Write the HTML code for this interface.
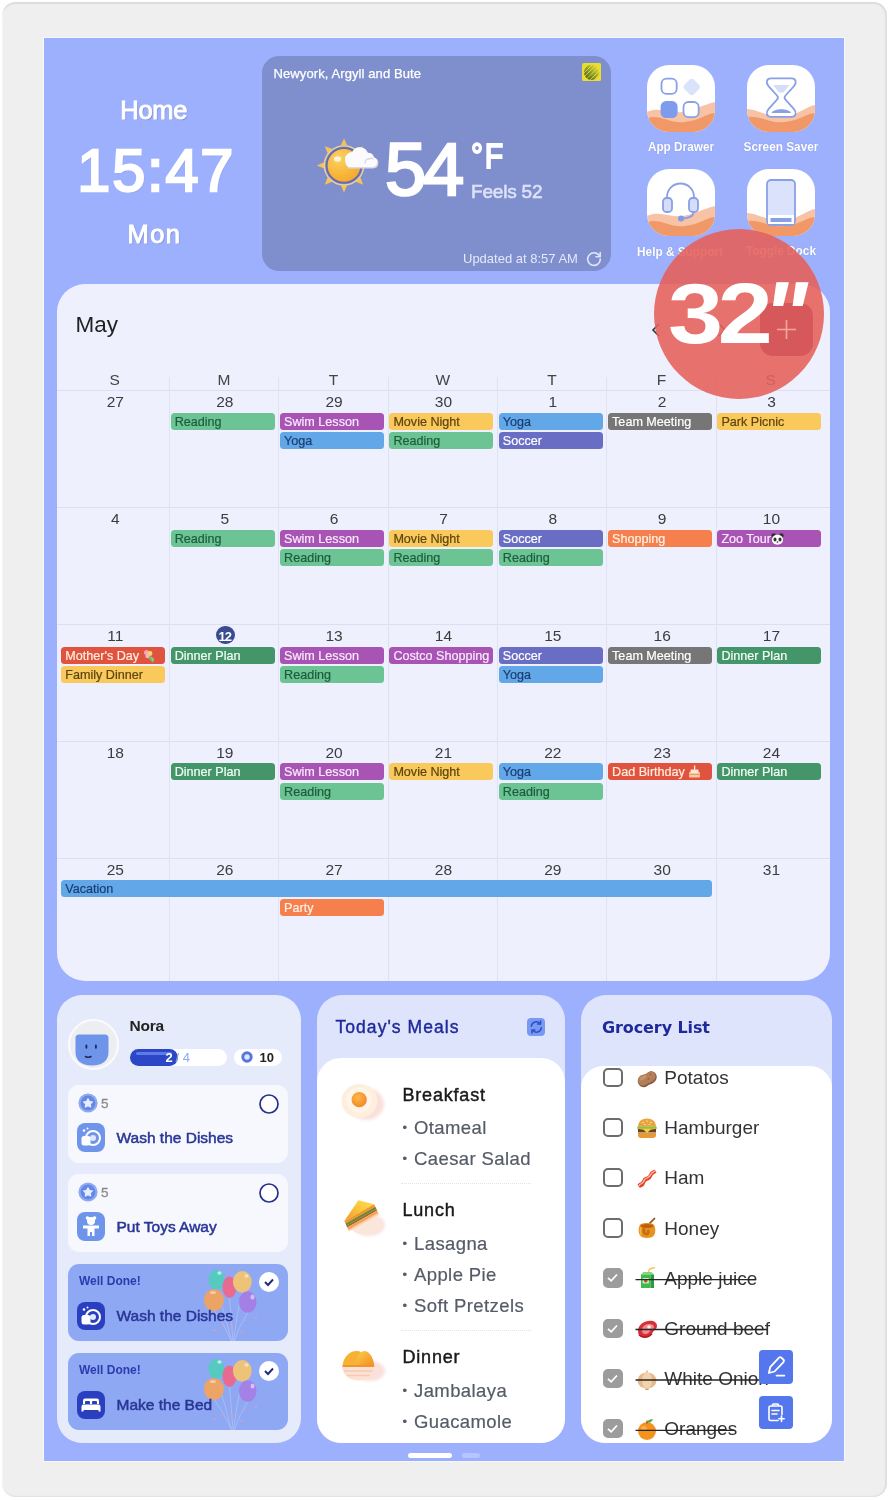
<!DOCTYPE html>
<html lang="en">
<head>
<meta charset="utf-8">
<title>Home Dashboard</title>
<style>
*{box-sizing:border-box;margin:0;padding:0}
html,body{width:889px;height:1500px;background:#fff;overflow:hidden}
body{font-family:"Liberation Sans",sans-serif;position:relative;color:#222}
.abs{position:absolute}
#frame{position:absolute;left:1.500px;top:1.500px;width:885.800px;height:1495.800px;background:#efefef;border-radius:14px;box-shadow:inset 0 3px 1px -1px #dcdcdc, inset -3px 0 1px -1px #dfdfdf, inset 0 -2px 1px -1px #e2e2e2, inset 2px 0 1px -1px #f4f4f4}
#screen{position:absolute;left:44px;top:38px;width:800px;height:1423px;background:#9db0fd;overflow:hidden;box-shadow:0 0 0 1px #f6f7fb}
/* everything inside #screen is positioned in page coords via this shifted layer */
#L{position:absolute;left:-44px;top:-38px;width:889px;height:1500px}
.t{position:absolute;white-space:nowrap;line-height:1}
.clock{color:#fff;text-shadow:1px 1px 1px rgba(90,100,150,.55)}
/* weather */
#wx{left:262px;top:56px;width:349px;height:215px;background:#7f8fce;border-radius:17px}
/* app icons */
.app{width:68px;height:67px;background:#fff;border-radius:22px;overflow:hidden}
.app svg{position:absolute;left:0;top:0}
.albl{color:#fff;font-weight:bold;font-size:12.700px;transform:scaleX(.93);transform-origin:50% 50%;text-align:center;width:120px;text-shadow:0 0 1px rgba(90,100,160,.5)}
/* calendar */
#cal{left:56.5px;top:283.5px;width:773.5px;height:697.5px;background:#eef0fe;border-radius:28px;overflow:hidden}
.vl{position:absolute;width:1px;background:#dfe2f2;top:93px;bottom:0}
.hl{position:absolute;height:1px;background:#dcdff0;left:0;right:0}
.wd{position:absolute;top:88.600px;width:109.35px;text-align:center;font-size:15.500px;line-height:1;color:#444}
.dn{position:absolute;width:109.35px;text-align:center;font-size:15.500px;line-height:1;color:#3c3c3c}
.ev{position:absolute;height:17px;border-radius:3.5px;font-size:12.600px;line-height:19px;padding-left:4.200px;white-space:nowrap;overflow:hidden;width:104.2px;-webkit-text-stroke:.2px currentColor}
.g{background:#6cc394;color:#1d5c3c}
.p{background:#a754b4;color:#fbeafd}
.b{background:#62a8e8;color:#1c3d72}
.y{background:#fac95b;color:#5b4410}
.i{background:#696ec4;color:#fff}
.k{background:#767676;color:#fff}
.o{background:#f57f4d;color:#fff2e6}
.r{background:#e0533f;color:#ffeede}
.d{background:#45956a;color:#f2fff6}
.task{left:67.800px;width:220.400px;height:77.500px;border-radius:11px;background:#f6f8fe}
.task.done{background:#8fa8f4;overflow:hidden}
.bal{position:absolute;left:133px;top:0}
.ticon{left:76.600px;width:28.400px;height:28.400px;border-radius:8px}
.ticon svg{position:absolute;left:0;top:0}
.ttxt{left:116.500px;font-size:15.500px;color:#2a3695;-webkit-text-stroke:.5px #2a3695}
.wd2{left:79px;font-size:12px;font-weight:bold;color:#2a3cae}
.mh{left:402.500px;font-size:18px;letter-spacing:.8px;color:#1a1a1a;-webkit-text-stroke:.45px #1a1a1a}
.mi{left:402.500px;font-size:18.500px;letter-spacing:.4px;color:#555b67;-webkit-text-stroke:.2px #555b67}
.mi i{font-style:normal;display:inline-block;width:11.500px;font-size:13px;vertical-align:2px}
.mdiv{left:401px;width:130px;height:0;border-top:1px dotted #e2e3ea}
.cb{left:603.300px;width:19.400px;height:19.400px;border-radius:5px;border:2px solid #6c6c6c;background:#fff;margin-top:-.4px}
.cb.ck{background:#9c9c9c;border-color:#9c9c9c}
.cb svg{position:absolute;left:-2px;top:-2px}
.gi{left:664.300px;font-size:19px;color:#333;line-height:19.300px}
.em{left:636px;width:22px;height:22px}
.sl{left:635.500px;height:1.500px;background:#2a2a2a}
.fb{left:759.400px;width:34px;height:33.500px;border-radius:4px;background:#5577ee}
.fb svg{position:absolute;left:0;top:0}
</style>
</head>
<body>
<div id="frame"></div>
<div id="screen"><div id="L">

<!-- clock -->
<div class="t clock" id="home" style="left:120.300px;top:98.300px;font-size:25.500px;letter-spacing:-.3px;-webkit-text-stroke:1px #fff">Home</div>
<div class="t clock" id="time" style="left:77.300px;top:141.300px;font-size:59.500px;letter-spacing:1.800px;-webkit-text-stroke:2.300px #fff">15:47</div>
<div class="t clock" id="mon" style="left:127.500px;top:221.800px;font-size:25.500px;letter-spacing:1.400px;-webkit-text-stroke:1px #fff">Mon</div>

<!-- weather -->
<div class="abs" id="wx"></div>
<div class="t" id="wxloc" style="left:273.500px;top:66.500px;font-size:13px;color:#fff;letter-spacing:.1px;-webkit-text-stroke:.25px #fff">Newyork, Argyll and Bute</div>
<div class="t" id="wx54" style="left:385px;top:132.500px;font-size:74px;color:#fff;letter-spacing:-3.200px;-webkit-text-stroke:2.500px #fff">54</div>
<div class="t" id="wxF" style="left:470.500px;top:138.200px;font-size:35px;color:#fff;letter-spacing:2px;-webkit-text-stroke:1.900px #fff;transform:scaleX(.86);transform-origin:0 0">°F</div>
<div class="t" id="wxfeel" style="left:471px;top:181.800px;font-size:19px;color:#dde2f6;-webkit-text-stroke:.55px #dde2f6;letter-spacing:-.2px">Feels 52</div>
<div class="t" id="wxupd" style="left:463px;top:251.5px;font-size:13px;color:#e4e8f8">Updated at 8:57 AM</div>
<svg class="abs" style="left:585px;top:250px" width="18" height="18" viewBox="0 0 18 18"><path d="M14.6 6.2A6.3 6.3 0 1 0 15.3 9" fill="none" stroke="#dfe4f7" stroke-width="1.6" stroke-linecap="round"/><path d="M15.2 2.6v4.2H11" fill="none" stroke="#dfe4f7" stroke-width="1.6" stroke-linecap="round" stroke-linejoin="round"/></svg>
<!-- provider logo -->
<svg class="abs" style="left:582px;top:62.800px" width="19.200" height="18.200" viewBox="0 0 19.200 18.200"><defs><linearGradient id="lg" x1="0" y1="1" x2="1" y2="0"><stop offset="0" stop-color="#3f5210"/><stop offset=".45" stop-color="#8a9a1e"/><stop offset=".8" stop-color="#d9cf2a"/><stop offset="1" stop-color="#e9dc30"/></linearGradient><clipPath id="lc"><circle cx="9.600" cy="9.300" r="7.600"/></clipPath></defs><rect width="19.200" height="18.200" rx="2.200" fill="#e9dd2f"/><circle cx="9.600" cy="9.300" r="7.600" fill="url(#lg)"/><g clip-path="url(#lc)" stroke="#f1e96a" stroke-width=".9" opacity=".8"><path d="M0 12L12 0M1 15L15 1M3.500 17L17 3.500M6 19L19 6M9 20L20 9M-1 9L9-1"/></g></svg>
<!-- sun + cloud -->
<svg class="abs" id="sun" style="left:314px;top:137px" width="66" height="58" viewBox="0 0 66 58">
<defs><radialGradient id="sg" cx=".35" cy=".3" r=".8"><stop offset="0" stop-color="#fbd263"/><stop offset=".6" stop-color="#f7b638"/><stop offset="1" stop-color="#f2a52e"/></radialGradient></defs>
<g fill="#f5c255"><path d="M30 1.200l3.200 7.300h-6.400z" transform="rotate(0 30 28.400)"/><path d="M30 1.200l3.200 7.300h-6.400z" transform="rotate(-45 30 28.400)"/><path d="M30 1.200l3.200 7.300h-6.400z" transform="rotate(-90 30 28.400)"/><path d="M30 1.200l3.200 7.300h-6.400z" transform="rotate(-135 30 28.400)"/><path d="M30 1.200l3.200 7.300h-6.400z" transform="rotate(180 30 28.400)"/><path d="M30 1.200l3.200 7.300h-6.400z" transform="rotate(135 30 28.400)"/><path d="M30 1.200l3.200 7.300h-6.400z" transform="rotate(90 30 28.400)"/><path d="M30 1.200l3.200 7.300h-6.400z" transform="rotate(45 30 28.400)"/></g>
<circle cx="30" cy="28.400" r="19.600" fill="#7f8fce" stroke="#f1d78c" stroke-width="1.300"/>
<circle cx="30" cy="28.400" r="17.300" fill="url(#sg)" stroke="#6b68ad" stroke-width="1.800"/>
<ellipse cx="23.500" cy="22" rx="3.600" ry="2.800" fill="#fff" opacity=".75"/>
<path d="M35 31.500h24a5.600 5.600 0 0 0 1.200-11 5.500 5.500 0 0 0-6-4.300 8.600 8.600 0 0 0-15.800-.7 7.600 7.600 0 0 0-7.400 7.600c0 4.500 3.200 8.400 4 8.400z" fill="#d9dae3"/>
<path d="M36 30h22.500a5 5 0 0 0 1-9.800 5.300 5.300 0 0 0-6-4.500 8.200 8.200 0 0 0-15.300-.6A7.200 7.200 0 0 0 31 22.500c0 4 2.500 7.500 5 7.500z" fill="#fbfbfd"/>
<path d="M51 26.500c0-3 2-5 4.500-4.500 1-1.500 3-1 3.500.5" fill="none" stroke="#d2d3de" stroke-width="1.200"/>
</svg>

<!-- app icons -->
<div class="abs app" style="left:646.500px;top:64.500px"><svg width="68" height="67" viewBox="0 0 68 67"><path d="M0 47c12-6 24 2 36 0s22-8 32-10v30H0z" fill="#f8c3a4"/><path d="M0 53c14-4 22 6 38 4s20-8 30-9v19H0z" fill="#f19868"/><rect x="14.500" y="13.700" width="15.200" height="15.200" rx="5" fill="#fff" stroke="#8aa0e6" stroke-width="1.800"/><rect x="36.500" y="37" width="15.200" height="15.200" rx="5" fill="#fff" stroke="#8aa0e6" stroke-width="1.800"/><rect x="13.600" y="36.100" width="17" height="17" rx="5.500" fill="#7f9bee"/><rect x="38" y="15.300" width="13.400" height="13.400" rx="3.500" transform="rotate(45 44.700 22)" fill="#dbe2fb"/></svg></div>
<div class="abs app" style="left:747px;top:64.500px"><svg width="68" height="67" viewBox="0 0 68 67"><path d="M0 44c10 0 20 8 34 8s24-10 34-12v27H0z" fill="#f8c3a4"/><path d="M0 52c14-2 22 7 38 5s20-8 30-9v19H0z" fill="#f19868"/><path d="M24 13.300h20.500c4.500 0 5.500 4.500 2.500 7.800l-8.500 9.400c-1.500 1.700-1.500 2.500 0 4.200l8.500 9.400c3 3.300 2 7.800-2.500 7.800H24c-4.500 0-5.500-4.500-2.500-7.800l8.500-9.400c1.500-1.700 1.500-2.500 0-4.200l-8.500-9.400c-3-3.300-2-7.800 2.500-7.800z" fill="#fff" stroke="#8aa0e6" stroke-width="1.800"/><path d="M26 20h16.500l-6 7.500h-4.500z" fill="#d5ddf8"/><path d="M24.500 48c2-5 17.500-5 19.500 0z" fill="#8aa0e6"/></svg></div>
<div class="abs app" style="left:646.500px;top:168.500px"><svg width="68" height="67" viewBox="0 0 68 67"><path d="M0 47c12-6 24 2 36 0s22-8 32-10v30H0z" fill="#f8c3a4"/><path d="M0 53c14-4 22 6 38 4s20-8 30-9v19H0z" fill="#f19868"/><path d="M20 32v-4a13.500 13.500 0 0 1 27 0v4" fill="none" stroke="#8aa0e6" stroke-width="1.800"/><rect x="16" y="29" width="9" height="14" rx="3.500" fill="#d5ddf8" stroke="#8aa0e6" stroke-width="1.800"/><rect x="42" y="29" width="9" height="14" rx="3.500" fill="#d5ddf8" stroke="#8aa0e6" stroke-width="1.800"/><path d="M46.500 43c0 5-5 6-11 6.500" fill="none" stroke="#8aa0e6" stroke-width="1.800"/><circle cx="34" cy="49.500" r="3" fill="#7f9bee"/></svg></div>
<div class="abs app" style="left:747px;top:168.500px"><svg width="68" height="67" viewBox="0 0 68 67"><path d="M0 44c10 0 20 8 34 8s24-10 34-12v27H0z" fill="#f8c3a4"/><path d="M0 52c14-2 22 7 38 5s20-8 30-9v19H0z" fill="#f19868"/><rect x="20" y="11" width="28" height="45" rx="4" fill="#dbe2fb" stroke="#8aa0e6" stroke-width="1.800"/><rect x="21" y="46" width="26" height="9" fill="#fff"/><rect x="23.500" y="49" width="21" height="4" fill="#8aa0e6"/></svg></div>
<div class="t albl" style="left:620.500px;top:141px">App Drawer</div>
<div class="t albl" style="left:721px;top:140.500px">Screen Saver</div>
<div class="t albl" style="left:620px;top:245.500px">Help &amp; Support</div>
<div class="t albl" style="left:721px;top:245px">Toggle Dock</div>

<div class="abs" id="cal">
<div class="t" id="may" style="left:19.0px;top:30.0px;font-size:22.5px;color:#222">May</div>
<svg class="abs" style="left:593.5px;top:38.0px" width="12" height="16" viewBox="0 0 12 16"><path d="M9 2L3 8l6 6" fill="none" stroke="#333" stroke-width="1.6"/></svg>
<svg class="abs" style="left:659.5px;top:38.0px" width="12" height="16" viewBox="0 0 12 16"><path d="M3 2l6 6-6 6" fill="none" stroke="#333" stroke-width="1.6"/></svg>
<div class="abs" id="addbtn" style="left:703.2px;top:19.5px;width:53px;height:53px;border-radius:13px;background:#6c8df2"><svg width="53" height="53" viewBox="0 0 53 53"><path d="M26.500 17v19M17 26.500h19" stroke="#fff" stroke-width="1.600" fill="none"/></svg></div>
<div class="hl" style="top:106.9px"></div>
<div class="hl" style="top:223.8px"></div>
<div class="hl" style="top:340.6px"></div>
<div class="hl" style="top:457.3px"></div>
<div class="hl" style="top:574.0px"></div>
<div class="vl" style="left:112.4px"></div>
<div class="vl" style="left:221.8px"></div>
<div class="vl" style="left:331.1px"></div>
<div class="vl" style="left:440.4px"></div>
<div class="vl" style="left:549.8px"></div>
<div class="vl" style="left:659.1px"></div>
<div class="wd" style="left:3.5px">S</div>
<div class="wd" style="left:112.9px">M</div>
<div class="wd" style="left:222.2px">T</div>
<div class="wd" style="left:331.6px">W</div>
<div class="wd" style="left:440.9px">T</div>
<div class="wd" style="left:550.3px">F</div>
<div class="wd" style="left:659.6px">S</div>
<div class="dn" style="left:4.2px;top:110.9px">27</div>
<div class="dn" style="left:113.6px;top:110.9px">28</div>
<div class="dn" style="left:222.9px;top:110.9px">29</div>
<div class="dn" style="left:332.3px;top:110.9px">30</div>
<div class="dn" style="left:441.6px;top:110.9px">1</div>
<div class="dn" style="left:551.0px;top:110.9px">2</div>
<div class="dn" style="left:660.3px;top:110.9px">3</div>
<div class="dn" style="left:4.2px;top:227.8px">4</div>
<div class="dn" style="left:113.6px;top:227.8px">5</div>
<div class="dn" style="left:222.9px;top:227.8px">6</div>
<div class="dn" style="left:332.3px;top:227.8px">7</div>
<div class="dn" style="left:441.6px;top:227.8px">8</div>
<div class="dn" style="left:551.0px;top:227.8px">9</div>
<div class="dn" style="left:660.3px;top:227.8px">10</div>
<div class="dn" style="left:4.2px;top:344.6px">11</div>
<div class="abs" id="today" style="left:159.7px;top:342.3px;width:18.600px;height:18.600px;border-radius:50%;background:#3b4b90"></div>
<div class="dn" style="left:114.1px;top:346.1px;color:#fff;font-weight:bold;font-size:13px;letter-spacing:-.8px;padding-right:.8px">12</div>
<div class="dn" style="left:222.9px;top:344.6px">13</div>
<div class="dn" style="left:332.3px;top:344.6px">14</div>
<div class="dn" style="left:441.6px;top:344.6px">15</div>
<div class="dn" style="left:551.0px;top:344.6px">16</div>
<div class="dn" style="left:660.3px;top:344.6px">17</div>
<div class="dn" style="left:4.2px;top:461.3px">18</div>
<div class="dn" style="left:113.6px;top:461.3px">19</div>
<div class="dn" style="left:222.9px;top:461.3px">20</div>
<div class="dn" style="left:332.3px;top:461.3px">21</div>
<div class="dn" style="left:441.6px;top:461.3px">22</div>
<div class="dn" style="left:551.0px;top:461.3px">23</div>
<div class="dn" style="left:660.3px;top:461.3px">24</div>
<div class="dn" style="left:4.2px;top:578.0px">25</div>
<div class="dn" style="left:113.6px;top:578.0px">26</div>
<div class="dn" style="left:222.9px;top:578.0px">27</div>
<div class="dn" style="left:332.3px;top:578.0px">28</div>
<div class="dn" style="left:441.6px;top:578.0px">29</div>
<div class="dn" style="left:551.0px;top:578.0px">30</div>
<div class="dn" style="left:660.3px;top:578.0px">31</div>
<div class="ev g" style="left:114.0px;top:129.4px;width:104.2px">Reading</div>
<div class="ev p" style="left:223.4px;top:129.4px;width:104.2px">Swim Lesson</div>
<div class="ev b" style="left:223.4px;top:148.7px;width:104.2px">Yoga</div>
<div class="ev y" style="left:332.7px;top:129.4px;width:104.2px">Movie Night</div>
<div class="ev g" style="left:332.7px;top:148.7px;width:104.2px">Reading</div>
<div class="ev b" style="left:442.1px;top:129.4px;width:104.2px">Yoga</div>
<div class="ev i" style="left:442.1px;top:148.7px;width:104.2px">Soccer</div>
<div class="ev k" style="left:551.4px;top:129.4px;width:104.2px">Team Meeting</div>
<div class="ev y" style="left:660.7px;top:129.4px;width:104.2px">Park Picnic</div>
<div class="ev g" style="left:114.0px;top:246.3px;width:104.2px">Reading</div>
<div class="ev p" style="left:223.4px;top:246.3px;width:104.2px">Swim Lesson</div>
<div class="ev g" style="left:223.4px;top:265.6px;width:104.2px">Reading</div>
<div class="ev y" style="left:332.7px;top:246.3px;width:104.2px">Movie Night</div>
<div class="ev g" style="left:332.7px;top:265.6px;width:104.2px">Reading</div>
<div class="ev i" style="left:442.1px;top:246.3px;width:104.2px">Soccer</div>
<div class="ev g" style="left:442.1px;top:265.6px;width:104.2px">Reading</div>
<div class="ev o" style="left:551.4px;top:246.3px;width:104.2px">Shopping</div>
<div class="ev p" style="left:660.7px;top:246.3px;width:104.2px">Zoo Tour<svg width="13" height="12" viewBox="0 0 13 12" style="vertical-align:-2px"><circle cx="2.600" cy="2.600" r="2.300" fill="#333"/><circle cx="10.400" cy="2.600" r="2.300" fill="#333"/><ellipse cx="6.500" cy="6.800" rx="5.600" ry="5" fill="#fff"/><ellipse cx="4" cy="6.500" rx="1.500" ry="1.900" fill="#333"/><ellipse cx="9" cy="6.500" rx="1.500" ry="1.900" fill="#333"/><ellipse cx="6.500" cy="9" rx="1" ry=".7" fill="#333"/></svg></div>
<div class="ev r" style="left:4.6px;top:363.1px;width:104.2px">Mother's Day <svg width="13" height="14" viewBox="0 0 13 14" style="vertical-align:-3px"><path d="M4 7l6 6M6 6l5 6" stroke="#7bb661" stroke-width="1.500"/><circle cx="3.500" cy="3.500" r="2.500" fill="#f6a6b8"/><circle cx="7" cy="4.500" r="2.400" fill="#f9d56b"/><circle cx="4.500" cy="7" r="2.200" fill="#f7b2c2"/><path d="M7 8l4 1-1 4z" fill="#8ccf78"/></svg></div>
<div class="ev y" style="left:4.6px;top:382.4px;width:104.2px">Family Dinner</div>
<div class="ev d" style="left:114.0px;top:363.1px;width:104.2px">Dinner Plan</div>
<div class="ev p" style="left:223.4px;top:363.1px;width:104.2px">Swim Lesson</div>
<div class="ev g" style="left:223.4px;top:382.4px;width:104.2px">Reading</div>
<div class="ev p" style="left:332.7px;top:363.1px;width:104.2px">Costco Shopping</div>
<div class="ev i" style="left:442.1px;top:363.1px;width:104.2px">Soccer</div>
<div class="ev b" style="left:442.1px;top:382.4px;width:104.2px">Yoga</div>
<div class="ev k" style="left:551.4px;top:363.1px;width:104.2px">Team Meeting</div>
<div class="ev d" style="left:660.7px;top:363.1px;width:104.2px">Dinner Plan</div>
<div class="ev d" style="left:114.0px;top:479.8px;width:104.2px">Dinner Plan</div>
<div class="ev p" style="left:223.4px;top:479.8px;width:104.2px">Swim Lesson</div>
<div class="ev g" style="left:223.4px;top:499.1px;width:104.2px">Reading</div>
<div class="ev y" style="left:332.7px;top:479.8px;width:104.2px">Movie Night</div>
<div class="ev b" style="left:442.1px;top:479.8px;width:104.2px">Yoga</div>
<div class="ev g" style="left:442.1px;top:499.1px;width:104.2px">Reading</div>
<div class="ev r" style="left:551.4px;top:479.8px;width:104.2px">Dad Birthday <svg width="13" height="13" viewBox="0 0 13 13" style="vertical-align:-2px"><rect x="1" y="7" width="11" height="5.500" rx="1" fill="#f6c9a0"/><rect x="2.500" y="4.500" width="8" height="3.500" rx="1" fill="#fde6d2"/><path d="M1 9.500h11" stroke="#f19a6e" stroke-width="1"/><rect x="6" y="1.500" width="1.200" height="3" fill="#fff"/><circle cx="6.600" cy="1.200" r="1" fill="#fbd15b"/></svg></div>
<div class="ev d" style="left:660.7px;top:479.8px;width:104.2px">Dinner Plan</div>
<div class="ev b" style="left:4.6px;top:596.5px;width:651.0px">Vacation</div>
<div class="ev o" style="left:223.4px;top:615.8px;width:104.2px">Party</div>
</div>
<!-- ===== chores card ===== -->
<div class="abs" id="chores" style="left:56.5px;top:995px;width:244px;height:448.300px;background:#e6ebfc;border-radius:25px"></div>
<div class="abs" style="left:67.500px;top:1019px;width:51px;height:51px;border-radius:50%;background:#eceef2;border:2px solid #fbfbfd"></div>
<svg class="abs" style="left:75px;top:1034px" width="34" height="32" viewBox="0 0 34 32"><path d="M4 .5h26a3.500 3.500 0 0 1 3.500 3.500v14c0 8-5 13.500-16.500 13.500S.5 26 .5 18V4A3.500 3.500 0 0 1 4 .5z" fill="#6f95ea"/><rect x="10.500" y="10.500" width="1.800" height="4.200" rx=".9" fill="#1f2a5a"/><rect x="20" y="10.500" width="1.800" height="4.200" rx=".9" fill="#1f2a5a"/><path d="M10.500 22.500q2.500 1.500 5.500 0" stroke="#1f2a5a" stroke-width="1.600" fill="none" stroke-linecap="round"/></svg>
<div class="t" id="nora" style="left:129.500px;top:1017.500px;font-size:15.500px;font-weight:bold;color:#222;letter-spacing:-.2px">Nora</div>
<div class="abs" style="left:130px;top:1048.500px;width:96.500px;height:17px;border-radius:9px;background:#fff"></div>
<div class="abs" style="left:130px;top:1048.500px;width:48px;height:17px;border-radius:9px;background:#2b46c6;overflow:hidden"><div style="position:absolute;left:6px;right:6px;top:3px;height:3px;border-radius:2px;background:#5f7be8"></div></div>
<div class="t" style="left:165.500px;top:1050.500px;font-size:13px;font-weight:bold;color:#fff">2</div>
<div class="t" style="left:175.500px;top:1050.500px;font-size:13px;color:#8ea6ee">/ 4</div>
<div class="abs" style="left:233.500px;top:1048.500px;width:48px;height:17px;border-radius:9px;background:#fff"></div>
<svg class="abs" style="left:240.500px;top:1051px" width="12" height="12" viewBox="0 0 12 12"><circle cx="6" cy="6" r="4.200" fill="#dfe6fb" stroke="#5576e0" stroke-width="3"/></svg>
<div class="t" style="left:259.500px;top:1050.500px;font-size:13px;font-weight:bold;color:#222">10</div>

<!-- task 1 -->
<div class="abs task" style="top:1085.300px"></div>
<svg class="abs" style="left:77.500px;top:1093.300px" width="20" height="20" viewBox="0 0 20 20"><circle cx="10" cy="10" r="9.600" fill="#8faaf0"/><circle cx="10" cy="10" r="7.400" fill="#6389e6"/><path d="M10 5.800l1.400 2.700 3 .4-2.200 2.100.5 3-2.700-1.400-2.700 1.400.5-3-2.200-2.100 3-.4z" fill="#e6edff" stroke="#e6edff" stroke-width="1.200" stroke-linejoin="round"/></svg>
<div class="t" style="left:101px;top:1097px;font-size:13.500px;color:#8a8a8a;-webkit-text-stroke:.3px #8a8a8a">5</div>
<svg class="abs" style="left:258px;top:1093px" width="22" height="22" viewBox="0 0 22 22"><circle cx="11" cy="11" r="9" fill="#fff" stroke="#262f8c" stroke-width="1.700"/></svg>
<div class="abs ticon" style="top:1123.400px;background:#6f95ea"><svg width="28" height="28" viewBox="0 0 28 28"><circle cx="16" cy="15" r="7" fill="none" stroke="#fff" stroke-width="2"/><circle cx="16" cy="15" r="3" fill="#dfe7fc"/><rect x="4.500" y="13" width="9" height="9.500" rx="2.500" fill="#fff"/><circle cx="7" cy="7.500" r="1.300" fill="#fff"/><circle cx="10.500" cy="5.500" r="1" fill="#fff"/></svg></div>
<div class="t ttxt" style="top:1129.500px">Wash the Dishes</div>

<!-- task 2 -->
<div class="abs task" style="top:1174.300px"></div>
<svg class="abs" style="left:77.500px;top:1182.300px" width="20" height="20" viewBox="0 0 20 20"><circle cx="10" cy="10" r="9.600" fill="#8faaf0"/><circle cx="10" cy="10" r="7.400" fill="#6389e6"/><path d="M10 5.800l1.400 2.700 3 .4-2.200 2.100.5 3-2.700-1.400-2.700 1.400.5-3-2.200-2.100 3-.4z" fill="#e6edff" stroke="#e6edff" stroke-width="1.200" stroke-linejoin="round"/></svg>
<div class="t" style="left:101px;top:1186px;font-size:13.500px;color:#8a8a8a;-webkit-text-stroke:.3px #8a8a8a">5</div>
<svg class="abs" style="left:258px;top:1182px" width="22" height="22" viewBox="0 0 22 22"><circle cx="11" cy="11" r="9" fill="#fff" stroke="#262f8c" stroke-width="1.700"/></svg>
<div class="abs ticon" style="top:1212.400px;background:#6f95ea"><svg width="28" height="28" viewBox="0 0 28 28"><circle cx="10.500" cy="6" r="1.800" fill="#fff"/><circle cx="17.500" cy="6" r="1.800" fill="#fff"/><circle cx="14" cy="9" r="4" fill="#fff"/><path d="M6 13.500h16v3h-4.500v7.500h-2.500v-4h-2v4h-2.500v-7.500H6z" fill="#fff"/></svg></div>
<div class="t ttxt" style="top:1218.500px">Put Toys Away</div>

<!-- done 1 -->
<div class="abs task done" style="top:1263.500px"><svg class="bal" width="70" height="78" viewBox="0 0 70 78"><g opacity=".93">
<g stroke="#b3c1f3" stroke-width=".8" fill="none"><path d="M13 46q10 14 18 32"/><path d="M16 26q8 26 15 52"/><path d="M28.500 34q2 22 3.500 44"/><path d="M41 28q-6 26-8.500 50"/><path d="M46.500 49q-9 14-13.500 29"/></g>
<ellipse cx="15.600" cy="15.800" rx="8.100" ry="10.100" fill="#52cdbd"/><ellipse cx="18.500" cy="9" rx="2.200" ry="1.700" fill="#d4f7f1" opacity=".85"/>
<ellipse cx="28.500" cy="23.200" rx="7" ry="10.800" fill="#ee6789"/>
<ellipse cx="41.300" cy="17.800" rx="9.400" ry="10.800" fill="#f5c570"/><ellipse cx="45.500" cy="12" rx="2" ry="1.700" fill="#fdeec6" opacity=".85"/>
<ellipse cx="12.900" cy="36" rx="10" ry="10.800" fill="#f4a45c"/><ellipse cx="12" cy="28.500" rx="3" ry="1.600" fill="#fbd9a8" opacity=".8"/>
<ellipse cx="46.700" cy="38" rx="8.800" ry="10.800" fill="#a67ee6"/><ellipse cx="51.500" cy="33" rx="2" ry="2.600" fill="#e0d2fa" opacity=".85"/>
<g fill="#f29a9a"><circle cx="13" cy="66" r="1.100"/><circle cx="22" cy="62" r=".8"/><circle cx="31" cy="62" r=".9"/><circle cx="41" cy="68" r=".9"/><circle cx="55" cy="54" r=".9"/><circle cx="44" cy="56" r=".8"/></g>
</g></svg></div>
<div class="t wd2" style="top:1275px">Well Done!</div>
<svg class="abs" style="left:258px;top:1270.600px" width="22" height="22" viewBox="0 0 22 22"><circle cx="11" cy="11" r="10" fill="#fff"/><path d="M7 11l3 3 5-5.500" fill="none" stroke="#1f2a7a" stroke-width="1.900"/></svg>
<div class="abs ticon" style="top:1301.500px;background:#2a3fc0"><svg width="28" height="28" viewBox="0 0 28 28"><circle cx="16" cy="15" r="7" fill="none" stroke="#fff" stroke-width="2"/><circle cx="16" cy="15" r="3" fill="#dfe7fc"/><rect x="4.500" y="13" width="9" height="9.500" rx="2.500" fill="#fff"/><circle cx="7" cy="7.500" r="1.300" fill="#fff"/><circle cx="10.500" cy="5.500" r="1" fill="#fff"/></svg></div>
<div class="t ttxt" style="top:1307.500px">Wash the Dishes</div>

<!-- done 2 -->
<div class="abs task done" style="top:1352.500px"><svg class="bal" width="70" height="78" viewBox="0 0 70 78"><g opacity=".93">
<g stroke="#b3c1f3" stroke-width=".8" fill="none"><path d="M13 46q10 14 18 32"/><path d="M16 26q8 26 15 52"/><path d="M28.500 34q2 22 3.500 44"/><path d="M41 28q-6 26-8.500 50"/><path d="M46.500 49q-9 14-13.500 29"/></g>
<ellipse cx="15.600" cy="15.800" rx="8.100" ry="10.100" fill="#52cdbd"/><ellipse cx="18.500" cy="9" rx="2.200" ry="1.700" fill="#d4f7f1" opacity=".85"/>
<ellipse cx="28.500" cy="23.200" rx="7" ry="10.800" fill="#ee6789"/>
<ellipse cx="41.300" cy="17.800" rx="9.400" ry="10.800" fill="#f5c570"/><ellipse cx="45.500" cy="12" rx="2" ry="1.700" fill="#fdeec6" opacity=".85"/>
<ellipse cx="12.900" cy="36" rx="10" ry="10.800" fill="#f4a45c"/><ellipse cx="12" cy="28.500" rx="3" ry="1.600" fill="#fbd9a8" opacity=".8"/>
<ellipse cx="46.700" cy="38" rx="8.800" ry="10.800" fill="#a67ee6"/><ellipse cx="51.500" cy="33" rx="2" ry="2.600" fill="#e0d2fa" opacity=".85"/>
<g fill="#f29a9a"><circle cx="13" cy="66" r="1.100"/><circle cx="22" cy="62" r=".8"/><circle cx="31" cy="62" r=".9"/><circle cx="41" cy="68" r=".9"/><circle cx="55" cy="54" r=".9"/><circle cx="44" cy="56" r=".8"/></g>
</g></svg></div>
<div class="t wd2" style="top:1364px">Well Done!</div>
<svg class="abs" style="left:258px;top:1359.600px" width="22" height="22" viewBox="0 0 22 22"><circle cx="11" cy="11" r="10" fill="#fff"/><path d="M7 11l3 3 5-5.500" fill="none" stroke="#1f2a7a" stroke-width="1.900"/></svg>
<div class="abs ticon" style="top:1390.500px;background:#2a3fc0"><svg width="28" height="28" viewBox="0 0 28 28"><path d="M6 13v-3.500a2 2 0 0 1 2-2h12a2 2 0 0 1 2 2V13z" fill="#fff"/><rect x="8" y="10" width="5" height="3.500" rx="1" fill="#2a3fc0"/><rect x="15" y="10" width="5" height="3.500" rx="1" fill="#2a3fc0"/><path d="M4.500 15.500a2 2 0 0 1 2-2h15a2 2 0 0 1 2 2v5h-2v-1.500h-15v1.500h-2z" fill="#fff"/></svg></div>
<div class="t ttxt" style="top:1396.500px">Make the Bed</div>



<!-- ===== meals card ===== -->
<div class="abs" id="meals" style="left:317px;top:995px;width:248px;height:448.300px;background:#dfe4fd;border-radius:25px"></div>
<div class="abs" style="left:317px;top:1057.500px;width:248px;height:385.800px;background:#fff;border-radius:24px"></div>
<div class="t" id="mtitle" style="left:335.500px;top:1018.800px;font-size:17.500px;color:#1e2a9a;letter-spacing:1.050px;-webkit-text-stroke:.4px #1e2a9a">Today's Meals</div>
<div class="abs" style="left:526.800px;top:1017.800px;width:18.600px;height:18px;border-radius:4px;background:#7a99f0"><svg width="18.600" height="18" viewBox="0 0 18.600 18" style="position:absolute;left:0;top:0"><path d="M4.300 8.200a5 5 0 0 1 8.800-2.500M14.300 9.800a5 5 0 0 1-8.800 2.500" fill="none" stroke="#2f4fd0" stroke-width="1.500" stroke-linecap="round"/><path d="M13.600 3v3h-3M5 15v-3h3" fill="none" stroke="#2f4fd0" stroke-width="1.500" stroke-linecap="round" stroke-linejoin="round"/></svg></div>

<div class="t mh" style="top:1085.7px">Breakfast</div>
<div class="t mi" style="top:1119.2px"><i>•</i>Otameal</div>
<div class="t mi" style="top:1150.2px"><i>•</i>Caesar Salad</div>
<div class="abs mdiv" style="top:1183px"></div>
<div class="t mh" style="top:1200.9px">Lunch</div>
<div class="t mi" style="top:1234.7px"><i>•</i>Lasagna</div>
<div class="t mi" style="top:1266.0px"><i>•</i>Apple Pie</div>
<div class="t mi" style="top:1297.2px"><i>•</i>Soft Pretzels</div>
<div class="abs mdiv" style="top:1330px"></div>
<div class="t mh" style="top:1348.2px">Dinner</div>
<div class="t mi" style="top:1381.7px"><i>•</i>Jambalaya</div>
<div class="t mi" style="top:1413.0px"><i>•</i>Guacamole</div>

<!-- egg -->
<svg class="abs" style="left:334px;top:1075px" width="56" height="52" viewBox="0 0 56 52"><defs><filter id="bl2" x="-30%" y="-30%" width="160%" height="160%"><feGaussianBlur stdDeviation="1.600"/></filter><filter id="bl1" x="-30%" y="-30%" width="160%" height="160%"><feGaussianBlur stdDeviation=".7"/></filter><radialGradient id="yk" cx=".4" cy=".35" r=".7"><stop offset="0" stop-color="#fbb945"/><stop offset="1" stop-color="#f1852a"/></radialGradient></defs>
<ellipse cx="32" cy="29" rx="18" ry="16" fill="#f6c6c0" opacity=".55" filter="url(#bl2)"/>
<ellipse cx="25.500" cy="26" rx="18" ry="17" fill="#fdeedd" filter="url(#bl1)"/>
<ellipse cx="25" cy="25" rx="13" ry="12.500" fill="#fef4e8" filter="url(#bl1)"/>
<circle cx="25.200" cy="24.700" r="7.600" fill="url(#yk)" filter="url(#bl1)"/></svg>
<!-- sandwich -->
<svg class="abs" style="left:338px;top:1195px" width="48" height="48" viewBox="0 0 48 48"><defs><linearGradient id="sb" x1="0" y1="1" x2="1" y2="0"><stop offset="0" stop-color="#f59324"/><stop offset=".55" stop-color="#f9c93a"/><stop offset="1" stop-color="#fbdc55"/></linearGradient></defs>
<ellipse cx="31" cy="30" rx="16" ry="11" fill="#f6c6c0" opacity=".5" filter="url(#bl2)"/>
<ellipse cx="27" cy="28.500" rx="16" ry="11" fill="#fbe6da" filter="url(#bl1)"/>
<g filter="url(#bl1)"><path d="M20.300 5.300L6.400 26l29.700-16.700z" fill="url(#sb)"/>
<path d="M6.400 26L36.100 9.300l1.200 2.500L7.500 28.600z" fill="#f3952b"/>
<path d="M7.500 28.600L37.300 11.800l1 2L8.400 30.700z" fill="#6d8a2f"/>
<path d="M8.400 30.700l29.900-16.900.8 1.700L9.200 32.500z" fill="#9a6b25"/>
<path d="M9.200 32.500l29.900-17 1.200 2.400L10.300 35z" fill="#f6a05a"/>
<path d="M10.300 35l30-17.100.8 1.300L10.900 36.400z" fill="#f9cfa6"/></g></svg>
<!-- dinner -->
<svg class="abs" style="left:339px;top:1339px" width="48" height="48" viewBox="0 0 48 48"><defs><linearGradient id="dr" x1="0" y1="0" x2="1" y2="1"><stop offset="0" stop-color="#fbcf4a"/><stop offset="1" stop-color="#f28a22"/></linearGradient></defs>
<ellipse cx="31" cy="32" rx="15" ry="10" fill="#f6c6c0" opacity=".55" filter="url(#bl2)"/>
<g filter="url(#bl1)"><path d="M3 27.500h34c0 6-5 14-17 14S3 33.500 3 27.500z" fill="#fbe2d4"/>
<path d="M5 32h29M8 36.500h23" stroke="#f7c9b6" stroke-width="1.600"/>
<path d="M3.600 27.500c0-8 6-15.500 14-15.500 4 0 6 2 8 5l-3 10.500z" fill="#f7b136"/>
<path d="M17 27.500c0-9 3-15 8-15.500 6 0 10 8 10.200 15.500z" fill="url(#dr)"/>
<path d="M3.600 26h31.600v2H3.600z" fill="#f0962c"/></g></svg>

<!-- ===== grocery card ===== -->
<div class="abs" id="groc" style="left:581px;top:995px;width:251px;height:447.500px;background:#dfe4fd;border-radius:25px"></div>
<div class="abs" style="left:581px;top:1066px;width:251px;height:376.500px;background:#fff;border-radius:22px 22px 24px 24px"></div>
<div class="t" id="gtitle" style="left:602px;top:1019.500px;font-family:'DejaVu Sans','Liberation Sans',sans-serif;font-size:16px;font-weight:bold;color:#1e2a9a;letter-spacing:-.1px">Grocery List</div>

<div class="abs cb" style="top:1068px"></div>
<div class="abs cb" style="top:1118.200px"></div>
<div class="abs cb" style="top:1168.400px"></div>
<div class="abs cb" style="top:1218.600px"></div>
<div class="abs cb ck" style="top:1268.800px"><svg width="19" height="19" viewBox="0 0 19 19"><path d="M5 9.800l3.200 3 5.800-6.300" fill="none" stroke="#fff" stroke-width="1.800"/></svg></div>
<div class="abs cb ck" style="top:1319px"><svg width="19" height="19" viewBox="0 0 19 19"><path d="M5 9.800l3.200 3 5.800-6.300" fill="none" stroke="#fff" stroke-width="1.800"/></svg></div>
<div class="abs cb ck" style="top:1369.200px"><svg width="19" height="19" viewBox="0 0 19 19"><path d="M5 9.800l3.200 3 5.800-6.300" fill="none" stroke="#fff" stroke-width="1.800"/></svg></div>
<div class="abs cb ck" style="top:1419.400px"><svg width="19" height="19" viewBox="0 0 19 19"><path d="M5 9.800l3.200 3 5.800-6.300" fill="none" stroke="#fff" stroke-width="1.800"/></svg></div>

<div class="t gi" style="top:1068px">Potatos</div>
<div class="t gi" style="top:1118.200px">Hamburger</div>
<div class="t gi" style="top:1168.400px">Ham</div>
<div class="t gi" style="top:1218.600px">Honey</div>
<div class="t gi" style="top:1268.800px">Apple juice</div>
<div class="t gi" style="top:1319px">Ground beef</div>
<div class="t gi" style="top:1369.200px">White Onion</div>
<div class="t gi" style="top:1419.400px">Oranges</div>

<!-- emoji icons (drawn) -->
<svg class="abs em" style="top:1066.500px" viewBox="0 0 22 22"><g transform="rotate(-30 11 11.500)"><path d="M1 12c0-4 3.500-6.500 7-6 2.500.4 3.500 1.200 6 .8 3.500-.6 7 1.200 7 5.200s-3.500 6.500-7.500 6.500c-2.500 0-3.500-.8-6-.5C4 18.500 1 16 1 12z" fill="#8a5b3e"/><path d="M1.600 11.300c0-3.600 3.200-5.800 6.400-5.300 2.500.4 3.500 1.200 6 .8 3.200-.5 6.300 1 6.300 4.500s-3.200 5.400-6.800 5.400c-2.500 0-3.500-.8-6-.5-3.300.4-5.900-1.500-5.900-4.900z" fill="#b27f58"/><ellipse cx="8" cy="9" rx="4" ry="1.800" fill="#c79a72" opacity=".8"/><circle cx="12" cy="12.500" r=".8" fill="#8a5b3e"/><circle cx="16" cy="9.500" r=".7" fill="#8a5b3e"/></g></svg>
<svg class="abs em" style="top:1116.700px" viewBox="0 0 22 22"><path d="M2 9.800C2 4.200 6 1.500 11 1.500s9 2.700 9 8.300z" fill="#eaa43e"/><g fill="#fbe6b5"><ellipse cx="7" cy="5.500" rx="1" ry=".6"/><ellipse cx="11" cy="4" rx="1" ry=".6"/><ellipse cx="15" cy="5.500" rx="1" ry=".6"/><ellipse cx="9" cy="7.500" rx="1" ry=".6"/><ellipse cx="13.500" cy="7.500" rx="1" ry=".6"/></g><path d="M1.300 9.500h19.400v2.600H1.300z" fill="#8fc043"/><path d="M2 12h18v3.500H2z" fill="#6f3f1f"/><path d="M1.500 11.700h19l-6 1-3.500 3.300-3.500-3.300z" fill="#f8cf3f"/><path d="M2 16h18v2a3 3 0 0 1-3 3H5a3 3 0 0 1-3-3z" fill="#e59a36"/></svg>
<svg class="abs em" style="top:1166.900px" viewBox="0 0 22 22"><path d="M1.500 18c1.500-3 3-1.500 4.500-4s1-3 3.500-4 3-1 4-3.500 2.500-2.500 5-4l2 3c-2 2-3.500 1.500-4.500 4s-1.500 3-4 4-2.500 1.500-3.500 4-3 2-4.500 3.500z" fill="#e3452c"/><path d="M2.800 19c1.500-3 3-1.500 4.500-4s1-3 3.500-4 3-1 4-3.500 2.500-2.500 4.500-3.800" fill="none" stroke="#f9c0a8" stroke-width="1.300"/></svg>
<svg class="abs em" style="top:1217.100px" viewBox="0 0 22 22"><path d="M12 8l6.500-6.500" stroke="#8a4b1f" stroke-width="1.700" stroke-linecap="round" fill="none"/><path d="M3.500 9c0-2 3-3 7.500-3s7.500 1 7.500 3c1 2 1.200 6 0 8.500-1 2.500-4 3.500-7.500 3.500s-6.500-1-7.500-3.500c-1.200-2.500-1-6.500 0-8.500z" fill="#e8931f"/><ellipse cx="11" cy="9" rx="6.500" ry="2" fill="#b9610f"/><path d="M8 11c1 0 1.500 1.500 1.500 3.500s1.500 2 1.500 0 1-2.500 2-1.500 1 4-1 5-5 0-5.500-3S6.500 11 8 11z" fill="#c46e12"/><path d="M5 10.500c-.8 2-.8 5 0 7" stroke="#f7b94a" stroke-width="1.200" fill="none" stroke-linecap="round"/></svg>
<svg class="abs em" style="top:1267.300px" viewBox="0 0 22 22"><path d="M12 6l1.500-4 5-1.500" stroke="#f3c64a" stroke-width="1.400" fill="none" stroke-linecap="round"/><path d="M5 7.500l2.500-2.500h8l2.500 2.500z" fill="#7ed67f"/><rect x="5" y="7.500" width="9.500" height="13.500" fill="#3fb84c"/><path d="M14.500 7.500H18V21h-3.500z" fill="#2c9a3c"/><rect x="6.500" y="11" width="6.500" height="5.500" rx=".8" fill="#bfeeb9"/><circle cx="9.700" cy="13.800" r="1.800" fill="#d8442f"/></svg>
<svg class="abs em" style="top:1317.500px" viewBox="0 0 22 22"><path d="M2 13c0-5 4-9 10-10 5-1 9 1 9 5 0 3-3 4-4 6s-3 6-8 6-7-3-7-7z" fill="#d92f3a"/><path d="M6 12c0-3 3-6 7-6 3 0 5 1 5 3s-3 2.500-4 4-2 3-4.500 3S6 14.500 6 12z" fill="#f28a8f"/><circle cx="13" cy="9" r="1.800" fill="#fff3e8"/><path d="M3 17c3 2.500 9 3 13-1" stroke="#a81e2a" stroke-width="1.500" fill="none"/></svg>
<svg class="abs em" style="top:1367.700px" viewBox="0 0 22 22"><path d="M11 1.500c.5 2 1 3 1 3h-2s.5-1 1-3z" fill="#c9a36e"/><ellipse cx="11" cy="12.500" rx="9.500" ry="8" fill="#e7b98a"/><ellipse cx="11" cy="12.500" rx="5" ry="8" fill="#f3d3ad"/><path d="M9 20.500h4l-.5 1.500h-3z" fill="#c9a36e"/></svg>
<svg class="abs em" style="top:1417.900px" viewBox="0 0 22 22"><circle cx="11" cy="13" r="9" fill="#f5921e"/><ellipse cx="8" cy="10" rx="3" ry="2" fill="#fbb45a" opacity=".8"/><path d="M11 4.500c1-3 4-3.500 6-3-1 2.500-3.500 3.500-6 3z" fill="#5aa544"/><rect x="10.400" y="2.500" width="1.200" height="3" fill="#7a5230"/></svg>

<!-- strike lines -->
<svg class="abs" style="left:630px;top:1270px" width="160" height="170" viewBox="0 0 160 170"><g stroke="#262626" stroke-width="1.350"><path d="M5.500 9.600H126"/><path d="M5.500 59.500H137"/><path d="M5.500 110H133.500"/><path d="M5.500 160.300H104"/></g></svg>

<!-- floating buttons -->
<div class="abs fb" style="top:1350.200px"><svg width="34" height="33.500" viewBox="0 0 34 33.500"><path d="M19.800 7.800a2 2 0 0 1 2.800 0l1.700 1.700a2 2 0 0 1 0 2.800l-8.800 9.200-5.600 1.500 1.300-5.800z" fill="none" stroke="#fff" stroke-width="1.800" stroke-linejoin="round"/><path d="M17.500 25.600h7.800" stroke="#fff" stroke-width="1.800" stroke-linecap="round"/></svg></div>
<div class="abs fb" style="top:1395.800px"><svg width="34" height="33.500" viewBox="0 0 34 33.500"><path d="M19 24.500h-7.500a1.500 1.500 0 0 1-1.500-1.500V11.500a1.500 1.500 0 0 1 1.500-1.500h10a1.500 1.500 0 0 1 1.500 1.500v7" fill="none" stroke="#fff" stroke-width="1.600" stroke-linecap="round"/><path d="M13.500 10V9a1 1 0 0 1 1-1h4a1 1 0 0 1 1 1v1" fill="none" stroke="#fff" stroke-width="1.600"/><path d="M13 14.500h7M13 18h5M22.500 20v5.500M19.800 22.800h5.400" stroke="#fff" stroke-width="1.600" stroke-linecap="round"/></svg></div>

<!-- page indicator -->
<div class="abs" style="left:408px;top:1452.800px;width:44px;height:5.500px;border-radius:3px;background:#fff"></div>
<div class="abs" style="left:461.500px;top:1453.200px;width:18.500px;height:5px;border-radius:3px;background:#b7c5fc"></div>

<div class="abs" id="badge" style="left:653.500px;top:228.500px;width:170px;height:170px;border-radius:50%;background:rgba(229,97,91,.89)"></div>
<div class="abs" style="left:759.700px;top:303px;width:53px;height:53px;border-radius:13px;background:rgba(214,70,66,.4)"></div>
<svg class="abs" style="left:759.700px;top:303px" width="53" height="53" viewBox="0 0 53 53"><path d="M26.500 17v19M17 26.500h19" stroke="#f0a79c" stroke-width="1.600" fill="none"/></svg>
<div class="t" id="b32" style="left:667.500px;top:269.500px;font-size:86px;font-weight:bold;color:#fff;letter-spacing:-4.500px;transform:scaleX(1.150);transform-origin:0 0">32</div>
<div class="t" id="binch" style="left:763px;top:269px;font-size:94px;font-weight:bold;font-style:italic;color:#fff">"</div>

</div></div>
</body>
</html>
